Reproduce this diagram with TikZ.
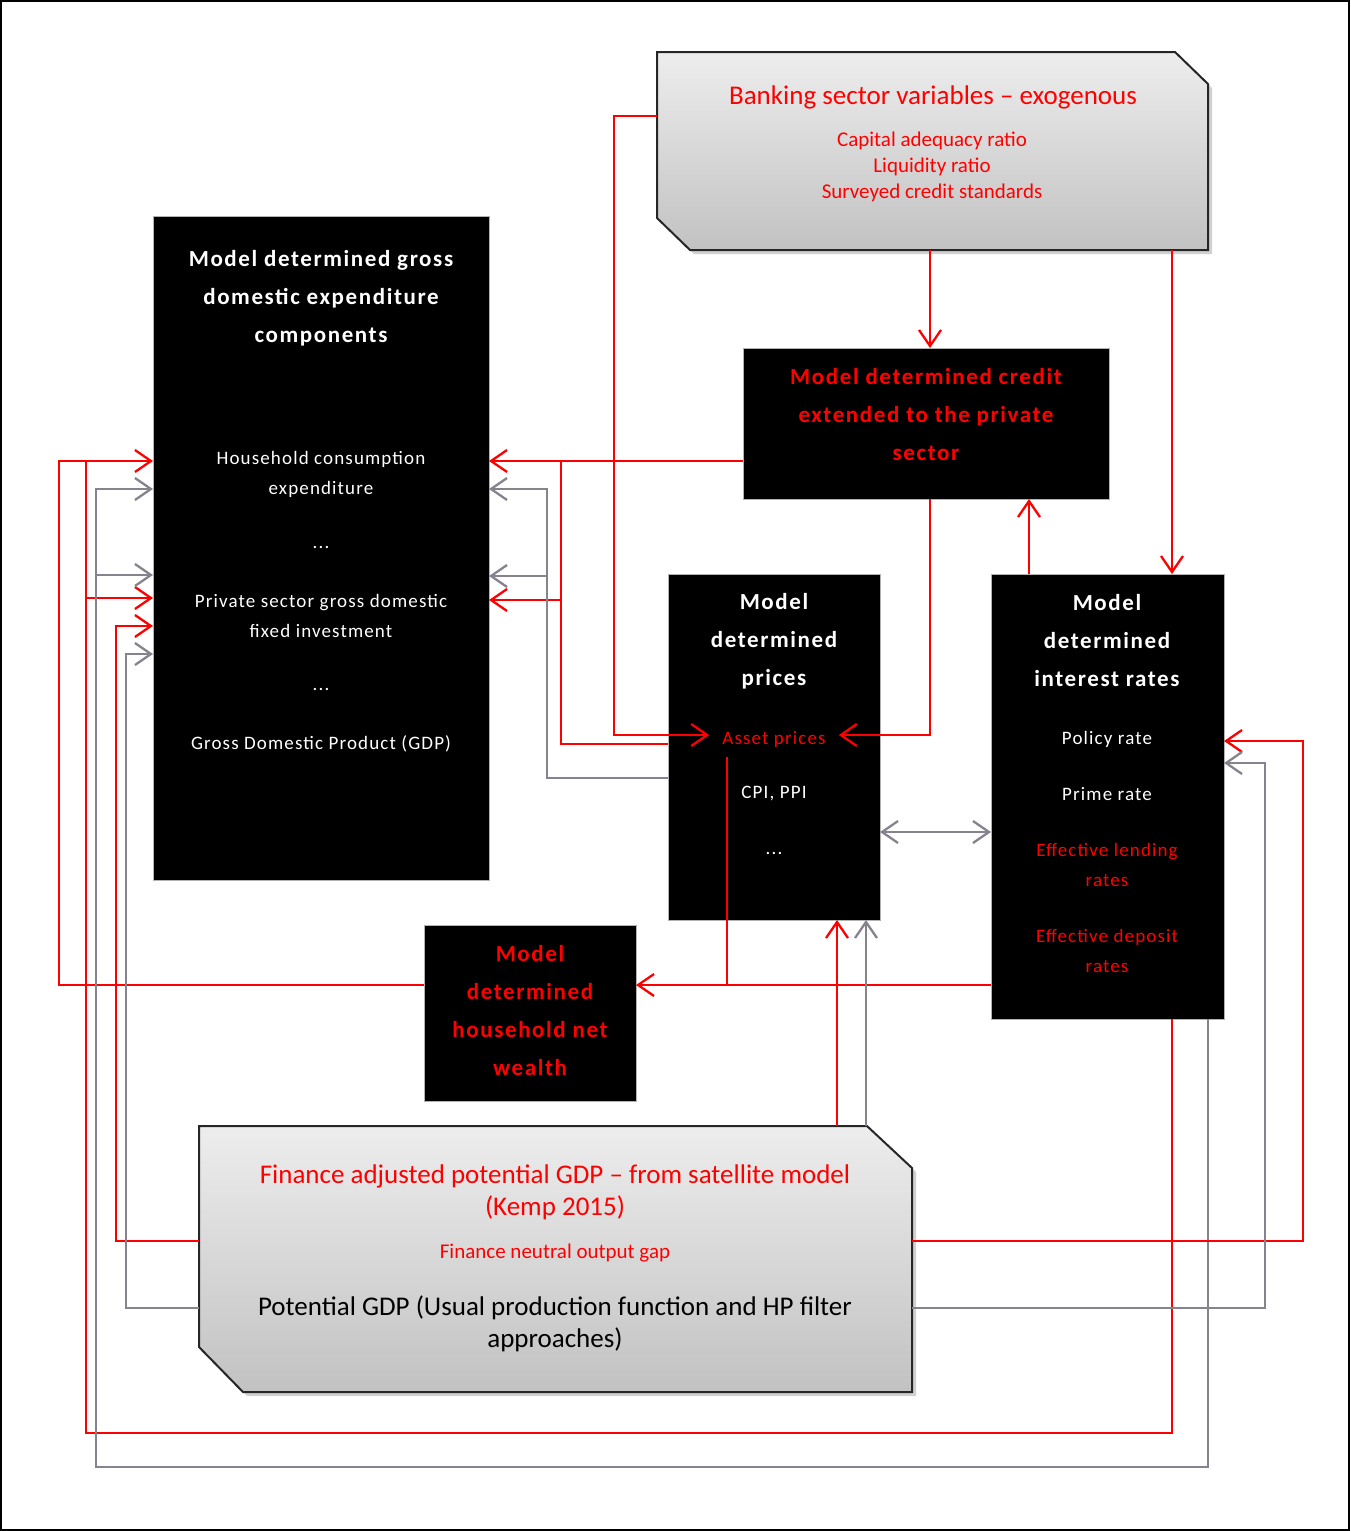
\documentclass[tikz,border=0pt]{standalone}
\usepackage{fontspec}
\setmainfont{Carlito}
\newfontfamily\titlefont[LetterSpace=7]{Carlito}
\newfontfamily\itemfont[LetterSpace=6]{Carlito}
\usetikzlibrary{arrows.meta}

\definecolor{linered}{RGB}{255,0,0}
\definecolor{linegrey}{RGB}{134,130,142}

\begin{document}
\begin{tikzpicture}[x=1pt,y=-1pt,
    blackbox/.style={fill=black,draw=gray!60,line width=1pt,inner sep=0pt,outer sep=0pt},
    slab/.style={inner sep=0pt,outer sep=0pt},
    boxtitle/.style={align=center,font=\titlefont\bfseries\fontsize{23}{38}\selectfont},
    boxitem/.style={align=center,font=\itemfont\fontsize{19}{30}\selectfont},
    slabtitle/.style={align=center,font=\fontsize{27}{32}\selectfont},
    slabitem/.style={align=center,font=\fontsize{21}{26}\selectfont},
    redline/.style={draw=linered,line width=2.3pt},
    greyline/.style={draw=linegrey,line width=2.3pt},
    redarr/.style={redline,-{Straight Barb[length=16pt,width=22pt]}},
    greyarr/.style={greyline,-{Straight Barb[length=16pt,width=22pt]}}]
  \useasboundingbox (0,0) rectangle (1350,1531);
  \draw[line width=2pt] (1,1) rectangle (1349,1530);

  % boxes
  \node[slab,minimum width=551pt,minimum height=198pt] (bank) at (932.5,151) {};
  \node[slab,minimum width=713pt,minimum height=266pt] (pot) at (555.5,1259) {};
  \node[blackbox,minimum width=336pt,minimum height=664pt] (gde) at (321,548) {};
  \node[blackbox,minimum width=366pt,minimum height=151pt] (credit) at (926,423.5) {};
  \node[blackbox,minimum width=212pt,minimum height=346pt] (prices) at (774,747) {};
  \node[blackbox,minimum width=233pt,minimum height=445pt] (rates) at (1107.5,796.5) {};
  \node[blackbox,minimum width=212pt,minimum height=176pt] (wealth) at (530,1013) {};

  % cut-corner slabs
  \fill[black,opacity=.18] ([shift={(4,4)}]bank.north west) -- ([shift={(-29,4)}]bank.north east)
    -- ([shift={(4,36)}]bank.north east) -- ([shift={(4,4)}]bank.south east)
    -- ([shift={(37,4)}]bank.south west) -- ([shift={(4,-28)}]bank.south west) -- cycle;
  \shade[top color=gray!14,bottom color=gray!48,draw=black!85,line width=2pt]
    (bank.north west) -- ([xshift=-33pt]bank.north east) -- ([yshift=-32pt]bank.north east)
    -- (bank.south east) -- ([xshift=33pt]bank.south west) -- ([yshift=32pt]bank.south west) -- cycle;
  \fill[black,opacity=.18] ([shift={(4,4)}]pot.north west) -- ([shift={(-41,4)}]pot.north east)
    -- ([shift={(4,46)}]pot.north east) -- ([shift={(4,4)}]pot.south east)
    -- ([shift={(48,4)}]pot.south west) -- ([shift={(4,-41)}]pot.south west) -- cycle;
  \shade[top color=gray!14,bottom color=gray!48,draw=black!85,line width=2pt]
    (pot.north west) -- ([xshift=-45pt]pot.north east) -- ([yshift=-42pt]pot.north east)
    -- (pot.south east) -- ([xshift=44pt]pot.south west) -- ([yshift=45pt]pot.south west) -- cycle;

  % texts
  \node[slabtitle,text=linered] (bankT) at (933,97) {Banking sector variables -- exogenous};
  \node[slabitem,text=linered] (bankL) at (932,167) {Capital adequacy ratio\\Liquidity ratio\\Surveyed credit standards};
  \node[boxtitle,text=white] (gdeT) at (321,298) {Model determined gross\\domestic expenditure\\components};
  \node[boxitem,text=white] (gdeA) at (321,474) {Household consumption\\expenditure};
  \node[boxitem,text=white] (gdeB) at (321,547) {...};
  \node[boxitem,text=white] (gdeC) at (321,616) {Private sector gross domestic\\fixed investment};
  \node[boxitem,text=white] (gdeD) at (321,689) {...};
  \node[boxitem,text=white] (gdeE) at (321,744) {Gross Domestic Product (GDP)};
  \node[boxtitle,text=linered] (creditT) at (926,415) {Model determined credit\\extended to the private\\sector};
  \node[boxtitle,text=white] (pricesT) at (774,641) {Model\\determined\\prices};
  \node[boxitem,text=linered,inner xsep=13pt,inner ysep=10pt] (assetp) at (774,739) {Asset prices};
  \node[boxitem,text=white] (cpi) at (774,794) {CPI, PPI};
  \node[boxitem,text=white] (pricesD) at (774,853) {...};
  \node[boxtitle,text=white] (ratesT) at (1107,641) {Model\\determined\\interest rates};
  \node[boxitem,text=white] (policy) at (1107,739) {Policy rate};
  \node[boxitem,text=white] (prime) at (1107,794) {Prime rate};
  \node[boxitem,text=linered] (lending) at (1107,865) {Effective lending\\rates};
  \node[boxitem,text=linered] (deposit) at (1107,951) {Effective deposit\\rates};
  \node[boxtitle,text=linered] (wealthT) at (530,1011) {Model\\determined\\household net\\wealth};
  \node[slabtitle,text=linered] (potT) at (555,1192) {Finance adjusted potential GDP -- from satellite model\\(Kemp 2015)};
  \node[slabitem,text=linered] (gap) at (555,1253) {Finance neutral output gap};
  \node[slabtitle,text=black] (potB) at (555,1324) {Potential GDP (Usual production function and HP filter\\approaches)};

  % junctions
  \coordinate (jr) at (561,600);
  \coordinate (jg) at (547,576);
  \coordinate (jl) at (86,598);
  \coordinate (jk) at (96,575);
  \coordinate (ja) at (727,985);

  % connectors
  \draw[redarr] (bank.south -| 930,0) -- (credit.north -| 930,0);
  \draw[redarr] (bank.south -| 1172,0) -- (rates.north -| 1172,0);
  \draw[redarr] (bank.west |- 0,116) -| ([yshift=4pt]assetp.west -| 614,0) -- ([yshift=4pt]assetp.west);
  \draw[redarr] (credit.south -| 930,0) |- ([yshift=4pt]assetp.east);
  \draw[redarr] (rates.north -| 1029,0) -- (credit.south -| 1029,0);
  \draw[redarr] (credit.west |- 0,461) -- (gde.east |- 0,461);
  \draw[redline] (prices.west |- 0,744) -| (jr) -- (561,461);
  \draw[redarr] (jr) -- (gde.east |- jr);
  \draw[greyarr] (prices.west |- 0,778) -| (547,489) -- (gde.east |- 0,489);
  \draw[greyarr] (jg) -- (gde.east |- jg);
  \draw[greyline,{Straight Barb[length=16pt,width=22pt]}-{Straight Barb[length=16pt,width=22pt]}]
    (prices.east |- 0,832) -- (rates.west |- 0,832);
  \draw[redarr] (rates.west |- ja) -- (wealth.east |- ja);
  \draw[redline] (assetp.south -| ja) -- (ja);
  \draw[redarr] (wealth.west |- ja) -| (59,461) -- (gde.west |- 0,461);
  \draw[redarr] (rates.south -| 1172,0) |- (86,1433) -- (jl) -- (gde.west |- jl);
  \draw[redline] (jl) -- (86,461);
  \draw[greyarr] (rates.south -| 1208,0) |- (96,1467) -- (96,489) -- (gde.west |- 0,489);
  \draw[greyarr] (jk) -- (gde.west |- jk);
  \draw[redarr] (pot.west |- 0,1241) -| (116,626) -- (gde.west |- 0,626);
  \draw[greyarr] (pot.west |- 0,1308) -| (126,654) -- (gde.west |- 0,654);
  \draw[redarr] (pot.east |- 0,1241) -| (1303,741) -- (rates.east |- 0,741);
  \draw[greyarr] (pot.east |- 0,1308) -| (1265,763) -- (rates.east |- 0,763);
  \draw[redarr] (pot.north -| 837,0) -- (prices.south -| 837,0);
  \draw[greyarr] (pot.north -| 866,0) -- (prices.south -| 866,0);
\end{tikzpicture}
\end{document}
